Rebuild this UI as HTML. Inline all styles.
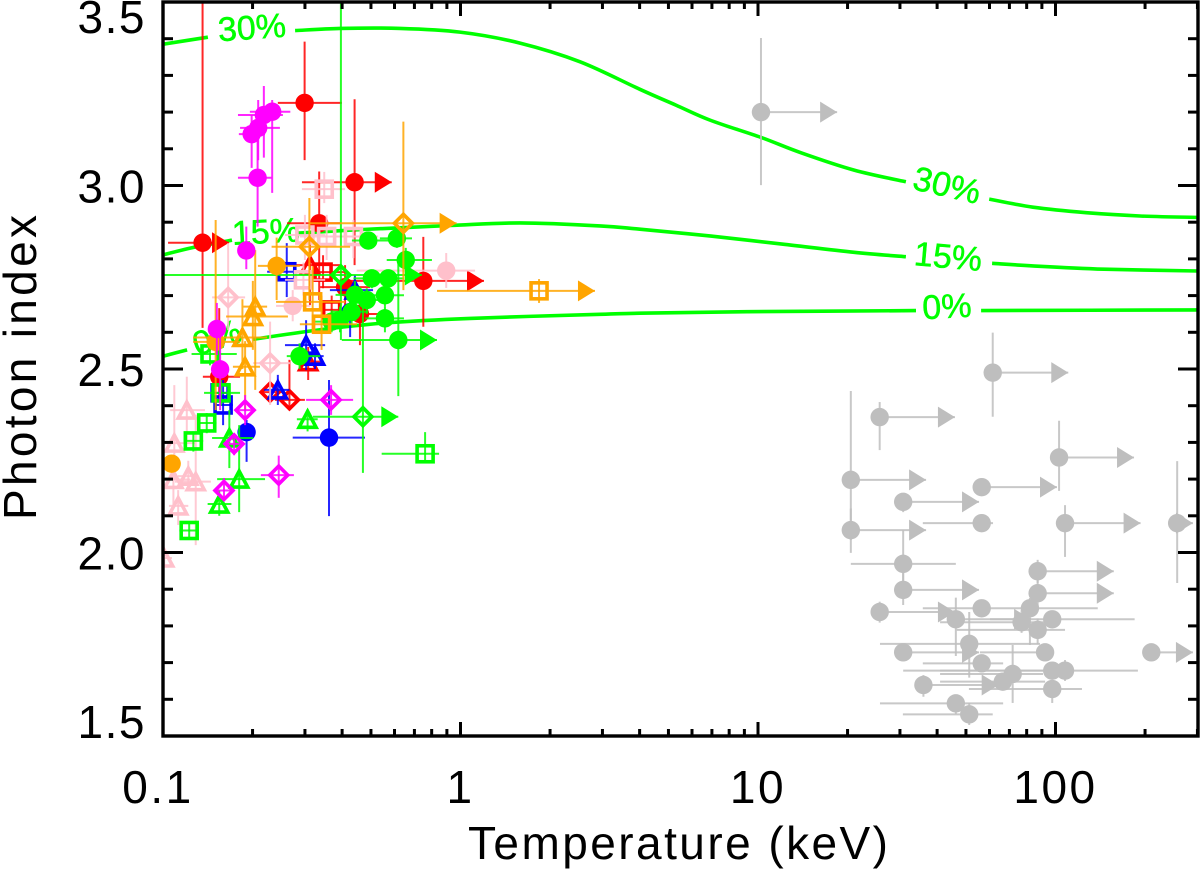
<!DOCTYPE html>
<html lang="en">
<head>
<meta charset="utf-8">
<title>Photon index vs Temperature</title>
<style>
html,body{margin:0;padding:0;background:#fff;}
svg{display:block;}
text{font-family:"Liberation Sans",sans-serif;}
</style>
</head>
<body>
<svg id="chart" xmlns="http://www.w3.org/2000/svg" width="1200" height="873" viewBox="0 0 1200 873">
<defs><clipPath id="plot-clip"><rect x="163" y="2" width="1035" height="734"/></clipPath></defs>
<rect x="0" y="0" width="1200" height="873" fill="#fff"/>
<g id="curves" clip-path="url(#plot-clip)"></g>
<g id="marks" clip-path="url(#plot-clip)"></g>
<g id="axes"></g>
<text x="468" y="859" font-size="46" textLength="420" fill="#000">Temperature (keV)</text>
<text transform="translate(36,520) rotate(-90)" font-size="46" textLength="305" fill="#000">Photon index</text>
</svg>
<script>
// Axis ticks
const xMajorTicks = [0.1, 1, 10, 100];
const xTickLabels = ["0.1", "1", "10", "100"];
const xMinorTicks = [0.2,0.3,0.4,0.5,0.6,0.7,0.8,0.9,2,3,4,5,6,7,8,9,20,30,40,50,60,70,80,90,200,300];
const yMajorTicks = [1.5, 2.0, 2.5, 3.0, 3.5];
const yTickLabels = ["1.5", "2.0", "2.5", "3.0", "3.5"];
const yMinorTicks = [1.6,1.7,1.8,1.9,2.1,2.2,2.3,2.4,2.6,2.7,2.8,2.9,3.1,3.2,3.3,3.4];

// Model curves: [log10 T(keV), photon index]
const curve30Left = [[-1,3.385],[-.849,3.404]];
const curve30Right = [[-.556,3.422],[-.405,3.428],[-.203,3.428],[-.002,3.418],[.2,3.388],[.402,3.337],[.603,3.262],[.724,3.219],[.842,3.177],[1.01,3.131],[1.145,3.089],[1.323,3.042],[1.497,3.01]];
const curve30Far = [[1.777,2.963],[1.924,2.941],[2.103,2.926],[2.284,2.917],[2.479,2.913]];
const curve15Left = [[-1,2.811],[-.899,2.831],[-.768,2.851]];
const curve15Right = [[-.55,2.87],[-.328,2.88],[-.035,2.891],[.2,2.898],[.469,2.89],[.603,2.881],[.842,2.862],[1.084,2.84],[1.323,2.818],[1.497,2.806]];
const curve15Far = [[1.787,2.788],[1.924,2.781],[2.163,2.772],[2.479,2.767]];
const curve0Left = [[-1,2.535],[-.919,2.552]];
const curve0Right = [[-.697,2.581],[-.482,2.606],[-.261,2.625],[.032,2.638],[.469,2.649],[.603,2.652],[.963,2.656],[1.531,2.659]];
const curve0Far = [[1.75,2.659],[2.479,2.661]];
// [label, log10 T, photon index, tilt]
const curveLabels = [["30%",1.635,2.999,13],["15%",1.639,2.805,5],["0%",1.635,2.669,-3],["30%",-.701,3.429,-4],["15%",-.654,2.873,-3],["0%",-.818,2.584,-18]];

// Points: [log10 T, index, log10 T low, log10 T high, index low, index high, lower-limit flag]
const grayCircles = [
[1.01,3.2,null,1.266,3.001,3.402,1],[1.789,2.49,null,2.043,2.37,2.599,1],[1.409,2.369,null,1.662,2.279,2.41,1],
[1.312,2.198,null,1.565,2.034,2.44,1],[1.488,2.138,null,1.743,2.11,2.157,1],[1.752,2.178,null,2.005,null,null,1],
[2.012,2.259,null,2.264,2.168,2.359,1],[1.752,2.08,1.554,1.79,null,null],[2.032,2.08,null,2.286,1.988,2.129,1],
[2.409,2.08,null,2.462,1.917,2.249,1],[1.312,2.061,null,1.565,1.999,2.12,1],[1.488,1.969,1.312,1.665,1.898,2.061],
[1.488,1.898,null,1.743,1.857,1.969,1],[1.94,1.949,null,2.196,1.917,1.98,1],[1.94,1.889,null,2.196,1.85,1.949,1],
[1.409,1.838,null,1.662,1.809,1.866,1],[1.752,1.848,1.554,2.142,null,null],[1.914,1.848,null,null,1.748,1.876],
[1.665,1.818,null,1.918,1.718,1.877,1],[1.989,1.818,1.78,2.266,null,null],[1.886,1.81,1.612,1.989,1.781,1.843],
[1.94,1.789,1.668,2.032,1.75,1.82],[1.488,1.728,null,1.743,null,null,1],[1.71,1.751,1.41,1.948,1.659,1.838],
[1.965,1.728,1.746,1.99,null,null],[1.752,1.698,1.554,1.824,null,null],[1.989,1.678,1.488,2.03,null,null],
[2.032,1.678,1.612,2.277,1.65,1.707],[1.856,1.669,1.612,1.958,1.59,1.748],[1.823,1.648,1.612,1.965,null,null],
[1.556,1.639,null,1.809,1.607,1.666,1],[1.989,1.628,1.709,2.089,1.59,1.653],[1.665,1.589,1.41,1.824,1.56,1.61],
[1.71,1.559,1.487,1.789,1.53,1.59],[2.322,1.728,null,2.462,null,null,1]];

const redCircles = [
[-.867,2.844,-.983,-.778,2.612,3.5,1],[-.524,3.225,-.614,-.399,3.069,3.392],[-.356,3.009,-.533,-.231,2.783,3.235,1],
[-.475,2.897,-.583,-.405,2.688,3.038],[-.125,2.74,-.388,.079,2.615,2.86,1],[-.388,2.723,-.472,-.304,2.661,2.783],
[-.338,2.65,-.405,-.271,2.565,2.715],[-.811,2.479,-.866,-.741,2.416,2.666]];
const redTriangles = [[-.506,2.783,-.59,-.405,2.674,2.865],[-.512,2.52,-.55,-.47,2.47,2.56]];
const redSquares = [[-.462,2.764,-.54,-.388,2.72,2.81],[-.433,2.661,-.506,-.321,2.62,2.7]];
const redDiamonds = [[-.64,2.437,-.674,-.59,2.41,2.465],[-.575,2.416,-.624,-.523,2.388,2.525]];

const blueCircles = [[-.719,2.328,null,null,2.247,2.361],[-.442,2.313,-.564,-.321,2.099,2.47],[-.371,2.655,-.41,-.33,2.587,2.7]];
const blueTriangles = [[-.355,2.715,-.439,-.294,2.661,2.756],[-.519,2.565,-.59,-.455,2.497,2.633],[-.489,2.535,-.52,-.46,2.5,2.57],[-.614,2.443,-.66,-.575,2.402,2.484]];
const blueSquares = [[-.584,2.765,-.65,-.556,2.696,2.843],[-.808,2.435,-.84,-.775,2.41,2.46],[-.798,2.402,-.83,-.765,2.347,2.47]];

const pinkCircles = [[-.564,2.672,-.62,-.505,2.63,2.715],[-.048,2.768,-.349,.049,2.721,2.816]];
const pinkSquares = [[-.458,2.99,-.533,-.388,2.952,3.037],[-.523,2.865,-.59,-.455,2.797,2.92],[-.45,2.861,-.54,-.321,2.797,2.92],[-.36,2.861,-.439,-.277,2.802,2.906],[-.528,2.743,-.59,-.455,2.7,2.79]];
const pinkDiamonds = [[-.781,2.695,-.835,-.724,2.606,2.843],[-.64,2.516,-.697,-.573,2.402,2.629]];
const pinkTriangles = [[-.92,2.388,-.976,-.859,2.307,2.479],[-.962,2.298,-1,-.892,2.198,2.456],[-.965,2.199,-1,-.909,2.13,2.26],[-.915,2.208,-.95,-.88,2.17,2.25],[-.89,2.193,-.96,-.839,2.02,2.375],[-.949,2.127,-.98,-.915,2.075,2.17],[-.996,1.985,-1,-.97,1.96,2.01]];

const greenCircles = [
[-.31,2.85,-.365,-.237,2.83,2.87],[-.214,2.856,-.271,-.163,2.83,2.88],[-.184,2.797,-.248,-.096,2.77,2.83],
[-.298,2.747,-.36,-.24,2.72,2.77],[-.243,2.747,-.3,-.19,2.72,2.77],[-.254,2.701,-.31,-.19,2.67,2.73],
[-.254,2.638,-.32,-.19,2.6,2.67],[-.355,2.702,-.42,-.3,2.67,2.74],[-.315,2.688,-.38,-.26,2.65,2.72],
[-.366,2.656,-.43,-.31,2.62,2.69],[-.405,2.634,-.46,-.35,2.6,2.67],[-.433,2.629,-.49,-.38,2.6,2.66],
[-.209,2.579,-.399,-.079,2.426,2.802,1],[-.541,2.535,-.584,-.472,2.5,2.57]];
const greenTriangles = [[-.514,2.363,-.55,-.48,2.33,2.39],[-.777,2.312,-.835,-.697,2.23,2.388],[-.744,2.2,-.818,-.657,2.11,2.347],[-.811,2.132,-.85,-.77,2.1,2.17]];
const greenSquares = [[-.119,2.269,-.265,-.072,2.244,2.328],[-.853,2.353,-.885,-.82,2.325,2.38],[-.898,2.304,-.93,-.865,2.275,2.33],[-.912,2.06,-.945,-.88,2.035,2.085],[-.842,2.541,-.904,-.752,2.51,2.57],[-.805,2.435,-.862,-.741,2.4,2.47]];
const greenDiamonds = [[-.328,2.37,-.496,-.209,2.217,2.688,1],[-.402,2.756,-1,-.13,2.579,3.5,1]];

const orangeCircles = [[-.618,2.781,-.681,-.54,2.688,2.858],[-.823,2.574,-.899,-.741,2.388,2.906],[-.971,2.242,null,null,null,null]];
const orangeTriangles = [[-.69,2.67,-.73,-.65,2.443,2.824],[-.698,2.643,-.788,-.58,2.552,2.74],[-.733,2.586,-.899,-.65,2.5,2.69],[-.724,2.506,-.765,-.674,2.388,2.576]];
const orangeSquares = [[-.497,2.683,-.62,-.388,2.6,2.78],[-.467,2.622,-.54,-.348,2.552,2.7],[.264,2.713,-.079,.452,2.68,2.745,1]];
const orangeDiamonds = [[-.192,2.897,-.506,-.013,2.715,3.174,1],[-.508,2.833,-.635,-.371,2.688,2.966]];

const magentaCircles = [
[-.633,3.201,-.708,-.572,2.98,3.233],[-.661,3.192,-.748,-.597,3.076,3.271],[-.68,3.157,-.741,-.607,3.069,3.233],
[-.702,3.14,-.745,-.657,3.048,3.192],[-.682,3.021,-.748,-.635,2.888,3.135],[-.72,2.823,null,null,2.772,2.888],
[-.819,2.609,null,null,2.538,2.68],[-.808,2.499,null,null,2.388,2.62]];
const magentaDiamonds = [[-.724,2.388,-.755,-.69,2.347,2.429],[-.435,2.416,-.519,-.361,2.375,2.456],[-.761,2.296,-.79,-.73,2.265,2.325],[-.611,2.211,-.671,-.56,2.149,2.264],[-.795,2.169,-.825,-.765,2.143,2.203]];

const seriesList = [
  {id:"gray-circle",color:"#bebebe",symbol:"circle",points:grayCircles},
  {id:"red-circle",color:"#ff0000",symbol:"circle",points:redCircles},
  {id:"red-triangle",color:"#ff0000",symbol:"triangle",points:redTriangles},
  {id:"red-square",color:"#ff0000",symbol:"square",points:redSquares},
  {id:"red-diamond",color:"#ff0000",symbol:"diamond",points:redDiamonds},
  {id:"blue-circle",color:"#0000ff",symbol:"circle",points:blueCircles},
  {id:"blue-triangle",color:"#0000ff",symbol:"triangle",points:blueTriangles},
  {id:"blue-square",color:"#0000ff",symbol:"square",points:blueSquares},
  {id:"pink-circle",color:"#ffc0cb",symbol:"circle",points:pinkCircles},
  {id:"pink-square",color:"#ffc0cb",symbol:"square",points:pinkSquares},
  {id:"pink-diamond",color:"#ffc0cb",symbol:"diamond",points:pinkDiamonds},
  {id:"pink-triangle",color:"#ffc0cb",symbol:"triangle",points:pinkTriangles},
  {id:"green-circle",color:"#00ff00",symbol:"circle",points:greenCircles},
  {id:"green-triangle",color:"#00ff00",symbol:"triangle",points:greenTriangles},
  {id:"green-square",color:"#00ff00",symbol:"square",points:greenSquares},
  {id:"green-diamond",color:"#00ff00",symbol:"diamond",points:greenDiamonds},
  {id:"orange-circle",color:"#ffa500",symbol:"circle",points:orangeCircles},
  {id:"orange-triangle",color:"#ffa500",symbol:"triangle",points:orangeTriangles},
  {id:"orange-square",color:"#ffa500",symbol:"square",points:orangeSquares},
  {id:"orange-diamond",color:"#ffa500",symbol:"diamond",points:orangeDiamonds},
  {id:"magenta-circle",color:"#ff00ff",symbol:"circle",points:magentaCircles},
  {id:"magenta-diamond",color:"#ff00ff",symbol:"diamond",points:magentaDiamonds}
];

const NS = "http://www.w3.org/2000/svg";
const xLog = v => 163 + (v + 1) * 297.5;
const xKeV = t => xLog(Math.log10(t));
const yIdx = g => 736 - (g - 1.5) * 367;
function make(tag, parent, attrs) {
  const el = document.createElementNS(NS, tag);
  for (const k in attrs) el.setAttribute(k, attrs[k]);
  parent.appendChild(el);
  return el;
}

// Curves
const curvesG = document.getElementById("curves");
function smoothPath(pts) {
  const p = pts.map(d => [xLog(d[0]), yIdx(d[1])]);
  let s = "M" + p[0][0].toFixed(1) + " " + p[0][1].toFixed(1);
  for (let i = 0; i < p.length - 1; i++) {
    const a = p[Math.max(i - 1, 0)], b = p[i], c = p[i + 1], e = p[Math.min(i + 2, p.length - 1)];
    s += "C" + (b[0] + (c[0] - a[0]) / 6).toFixed(1) + " " + (b[1] + (c[1] - a[1]) / 6).toFixed(1) + " " +
         (c[0] - (e[0] - b[0]) / 6).toFixed(1) + " " + (c[1] - (e[1] - b[1]) / 6).toFixed(1) + " " +
         c[0].toFixed(1) + " " + c[1].toFixed(1);
  }
  return s;
}
[curve30Left, curve30Right, curve30Far, curve15Left, curve15Right, curve15Far, curve0Left, curve0Right, curve0Far].forEach(seg => {
  const path = make("path", curvesG, {d: smoothPath(seg), fill: "none", stroke: "#00ff00", "stroke-width": 3.6});
  
  
});
curveLabels.forEach(l => {
  const x = xLog(l[1]), y = yIdx(l[2]);
  const t = make("text", curvesG, {x: x, y: y, "font-size": 34, fill: "#00ff00", stroke: "#00ff00", "stroke-width": 0.5, "text-anchor": "middle", "dominant-baseline": "central", transform: "rotate(" + l[3] + " " + x + " " + y + ")"});
  
  
  t.textContent = l[0];
});

// Points
const marksG = document.getElementById("marks");
function drawSymbol(g, kind, cx, cy, color) {
  if (kind === "circle") return make("circle", g, {cx: cx, cy: cy, r: 9.2, fill: color});
  if (kind === "square") return make("rect", g, {x: cx - 8, y: cy - 8, width: 16, height: 16, fill: "none", stroke: color, "stroke-width": 3.6});
  if (kind === "diamond") return make("polygon", g, {points: [cx, cy - 9, cx + 9, cy, cx, cy + 9, cx - 9, cy].join(" "), fill: "none", stroke: color, "stroke-width": 3.6});
  return make("polygon", g, {points: [cx, cy - 8, cx + 8.5, cy + 8, cx - 8.5, cy + 8].join(" "), fill: "none", stroke: color, "stroke-width": 3.6});
}
seriesList.forEach(s => {
  const g = make("g", marksG, {});
  
  
  s.points.forEach(d => {
    const cx = xLog(d[0]), cy = yIdx(d[1]);
    const pt = make("g", g, {});
    
    
    const lineAttrs = {stroke: s.color, "stroke-width": 2, "stroke-opacity": 0.85};
    if (d[2] !== null || d[3] !== null) {
      const xa = d[2] === null ? cx : xLog(d[2]);
      const xb = d[3] === null ? cx : xLog(d[3]);
      const h = make("line", pt, Object.assign({x1: xa, y1: cy, x2: xb, y2: cy}, lineAttrs));
      
      
    }
    if (d[4] !== null || d[5] !== null) {
      const ya = d[4] === null ? cy : yIdx(d[4]);
      const yb = d[5] === null ? cy : yIdx(d[5]);
      const v = make("line", pt, Object.assign({x1: cx, y1: ya, x2: cx, y2: yb}, lineAttrs));
      
      
    }
    const sym = drawSymbol(pt, s.symbol, cx, cy, s.color);
    
    
    if (d[6]) {
      const tip = xLog(d[3]);
      const arrow = make("polygon", pt, {points: [tip, cy, tip - 17, cy - 10.5, tip - 17, cy + 10.5].join(" "), fill: s.color});
      
      
    }
  });
});

// Axes
const axesG = document.getElementById("axes");
const frame = make("rect", axesG, {x: 163, y: 2, width: 1035, height: 734, fill: "none", stroke: "#000", "stroke-width": 3.4});


function tick(x1, y1, x2, y2, w) {
  const t = make("line", axesG, {x1: x1, y1: y1, x2: x2, y2: y2, stroke: "#000", "stroke-width": w});
  
  
}
xMajorTicks.forEach(t => { const x = xKeV(t); tick(x, 736, x, 722, 3); tick(x, 2, x, 16, 3); });
xMinorTicks.forEach(t => { const x = xKeV(t); tick(x, 736, x, 729, 3); tick(x, 2, x, 9, 3); });
yMajorTicks.forEach(v => { const y = yIdx(v); tick(163, y, 183, y, 3); tick(1198, y, 1178, y, 3); });
yMinorTicks.forEach(v => { const y = yIdx(v); tick(163, y, 173, y, 3); tick(1198, y, 1188, y, 3); });
xMajorTicks.forEach((t, i) => {
  const lab = make("text", axesG, {x: xKeV(t) - (i === 0 ? 5 : 0), y: 803, "font-size": 46, "letter-spacing": 2.5, "text-anchor": "middle", fill: "#000"});
  
  
  lab.textContent = xTickLabels[i];
});
yMajorTicks.forEach((v, i) => {
  const base = Math.min(738, Math.max(33, yIdx(v) + 17));
  const lab = make("text", axesG, {x: 146, y: base, "font-size": 46, "letter-spacing": 1.5, "text-anchor": "end", fill: "#000"});
  
  
  lab.textContent = yTickLabels[i];
});
</script>
</body>
</html>
